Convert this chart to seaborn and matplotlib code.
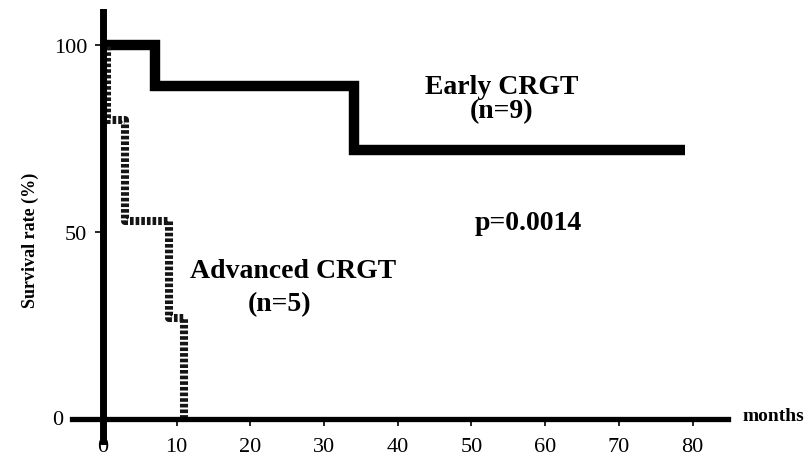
import pandas as pd
import seaborn as sns
import matplotlib.pyplot as plt
from matplotlib.transforms import blended_transform_factory

# Kaplan-Meier survival
EARLY_MONTHS = [0, 7, 34, 79]
EARLY_SURV = [100, 88.9, 72, 72]
ADV_MONTHS = [0, 0.6, 3, 9, 11]
ADV_SURV = [100, 80, 53, 27, 0]
X_TICKS = [0, 10, 20, 30, 40, 50, 60, 70, 80]
Y_TICKS = [50, 100]


def build_data():
    early = pd.DataFrame({"Months": EARLY_MONTHS, "Survival": EARLY_SURV})
    early["Group"] = "Early CRGT"
    adv = pd.DataFrame({"Months": ADV_MONTHS, "Survival": ADV_SURV})
    adv["Group"] = "Advanced CRGT"
    return pd.concat([early, adv], ignore_index=True)


def plot(df):
    sns.set_style("white")
    plt.rcParams["font.family"] = ["Liberation Serif", "DejaVu Serif"]
    plt.rcParams["text.color"] = "black"

    fig = plt.figure(figsize=(8.09, 4.64), dpi=100)
    # y: 108.8 -> px 13, -5.8 -> px 442
    ax = fig.add_axes([72 / 809, 22 / 464, 656 / 809, 429 / 464])

    sns.lineplot(
        data=df[df.Group == "Early CRGT"], x="Months", y="Survival",
        estimator=None, sort=False, drawstyle="steps-post",
        color="black", linewidth=7.5, solid_joinstyle="miter",
        solid_capstyle="butt", ax=ax
    )
    sns.lineplot(
        data=df[df.Group == "Advanced CRGT"], x="Months", y="Survival",
        estimator=None, sort=False, drawstyle="steps-post",
        color="#151515", linewidth=5.8, linestyle=(0, (0.45, 0.25)),
        dash_capstyle="butt", ax=ax
    )

    ax.set_xlim(-4.2, 84.8)
    ax.set_ylim(-5.8, 108.8)
    for side in ["top", "right"]:
        ax.spines[side].set_visible(False)
    ax.spines["left"].set_position(("data", 0))
    ax.spines["bottom"].set_position(("data", 0))
    ax.spines["left"].set_linewidth(5)
    ax.spines["bottom"].set_linewidth(3.8)
    ax.spines["left"].set_color("black")
    ax.spines["bottom"].set_color("black")

    ax.set_xticks(X_TICKS)
    ax.set_xticklabels([str(t) for t in X_TICKS])
    ax.set_yticks(Y_TICKS)
    ax.set_yticklabels([str(t) for t in Y_TICKS])
    ax.tick_params(axis="x", direction="out", length=5, width=1.2,
                   pad=8, labelsize=16, colors="black", bottom=True)
    ax.tick_params(axis="y", direction="out", length=5.5, width=1.2,
                   pad=6, labelsize=16, colors="black", left=True)
    # "0" on the y axis sits left of the x-axis extension
    ax.annotate("0", xy=(0, 0), xycoords=("axes fraction", "data"),
                xytext=(-6, 0), textcoords="offset points",
                ha="right", va="center", fontsize=16)

    ax.set_xlabel("months", fontsize=14, fontweight="bold", ha="left",
                  va="center", color="black")
    ax.xaxis.set_label_coords(1.022, 1.0, transform=blended_transform_factory(ax.transAxes, ax.transData))
    ax.set_ylabel("Survival rate (%)", fontsize=13, fontweight="bold",
                  va="center", color="black")
    ax.yaxis.set_label_coords(-0.064, 0.47)

    txt = dict(ha="center", va="center", fontsize=20, fontweight="bold")
    ax.text(54.1, 88.8, "Early CRGT", **txt)
    ax.text(54.1, 82.4, "(n=9)", **txt)
    ax.text(25.8, 39.7, "Advanced CRGT", **txt)
    ax.text(24.0, 30.9, "(n=5)", **txt)
    ax.text(57.7, 52.5, "p=0.0014", **txt)

    ax.grid(False)
    fig.savefig("out.png", dpi=100)


if __name__ == "__main__":
    data = build_data()
    plot(data)
